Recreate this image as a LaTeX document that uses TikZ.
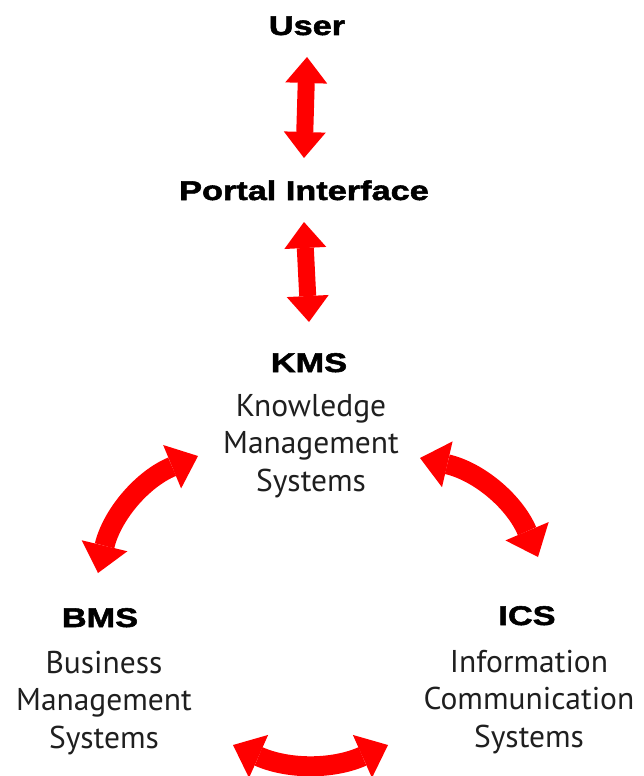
\documentclass[tikz,border=0pt]{standalone}
\usepackage{fontspec}
\setmainfont{PT Sans}
\newfontfamily\titlefont{Liberation Sans}[FakeStretch=1.27,FakeBold=2]
\usetikzlibrary{arrows.meta}
\definecolor{arrowred}{RGB}{255,0,0}
\begin{document}
\begin{tikzpicture}[x=1pt,y=1pt,
  title/.style={font=\titlefont\bfseries\fontsize{27}{32}\selectfont, inner sep=0pt, anchor=base},
  desc/.style={font=\fontsize{31.5}{37.5}\selectfont, align=center, inner sep=0pt, text=black!88},
  dbl/.style={draw=arrowred, line width=17pt,
    {Triangle[width=42pt,length=26pt,line width=0pt]}-{Triangle[width=42pt,length=26pt,line width=0pt]},
    arrowred},
  cdbl/.style={draw=arrowred, line width=20pt,
    {Triangle[width=47pt,length=28pt,line width=0pt]}-{Triangle[width=47pt,length=28pt,line width=0pt]},
    arrowred}]
\useasboundingbox (0,0) rectangle (644,-776);
\clip (0,0) rectangle (644,-776);
\node[title] (user) at (307,-35) {User};
\node[title] (portal) at (304,-200) {Portal Interface};
\node[title] (kms) at (309,-372) {KMS};
\node[desc] (kmsd) at (311,-446) {Knowledge\\Management\\Systems};
\node[title] (bms) at (100,-627) {BMS};
\node[desc] (bmsd) at (104,-703) {Business\\Management\\Systems};
\node[title] (ics) at (527,-625) {ICS};
\node[desc] (icsd) at (529,-702) {Information\\Communication\\Systems};
\draw[dbl] ([yshift=-22pt]user.base) -- ([yshift=42pt]portal.base);
\draw[dbl] ([yshift=-22pt]portal.base) -- ([yshift=50pt]kms.base);
\draw[cdbl] ([shift={(-2pt,54pt)}]bms.base) to[bend left=27] ([shift={(-111pt,-84pt)}]kms.base);
\draw[cdbl] ([shift={(111pt,-86pt)}]kms.base) to[bend left=27] ([shift={(11pt,68pt)}]ics.base);
\draw[cdbl] ([shift={(133pt,-118pt)}]bms.base) to[bend right=24] ([shift={(-139pt,-120pt)}]ics.base);
\end{tikzpicture}
\end{document}
